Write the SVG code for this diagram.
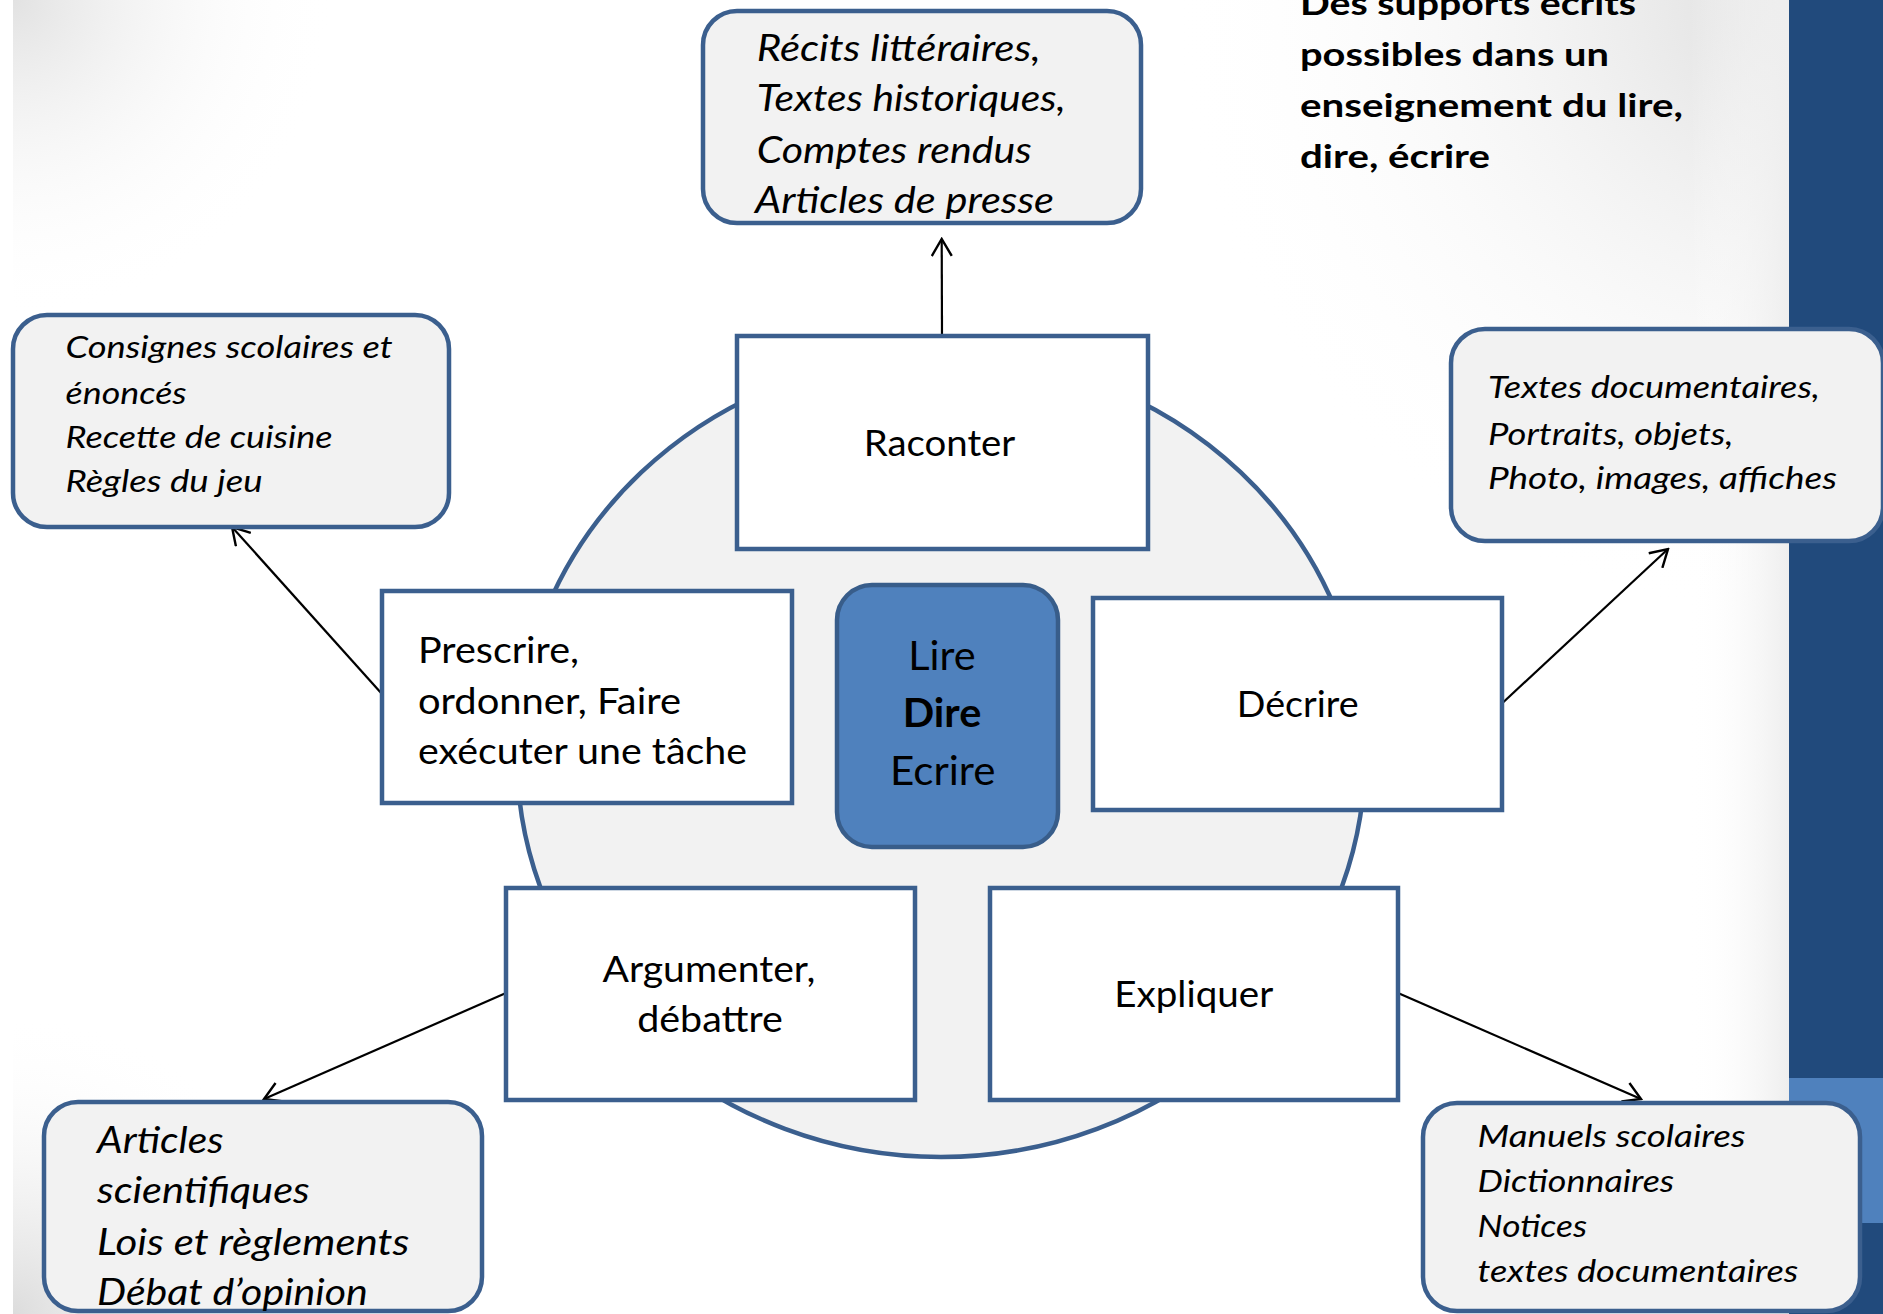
<svg xmlns="http://www.w3.org/2000/svg" width="1883" height="1314" viewBox="0 0 1883 1314">
<defs>
<style>
.node{fill:#ffffff;stroke:#3b5f8e;stroke-width:4.5}
.leaf{fill:#f2f2f2;stroke:#3b5f8e;stroke-width:4.5}
.t{font-family:Lato,"Liberation Sans",sans-serif;fill:#000}
.n{font-size:36px}
.c{font-size:41px}
.li{font-size:36px;font-style:italic}
.ls{font-size:31px;font-style:italic}
.title{font-size:32.5px;font-weight:bold}
.conn{stroke:#000;stroke-width:2.2;fill:none;marker-end:url(#arr)}
</style>
<marker id="arr" viewBox="0 0 22 22" refX="20" refY="11" markerWidth="22" markerHeight="22" markerUnits="userSpaceOnUse" orient="auto">
<path d="M3,1 L20,11 L3,21" fill="none" stroke="#000" stroke-width="2.4"/>
</marker>
<radialGradient id="gTL" gradientUnits="userSpaceOnUse" cx="13" cy="0" r="320">
<stop offset="0" stop-color="#e2e2e2"/><stop offset="1" stop-color="#ffffff" stop-opacity="0"/>
</radialGradient>
<radialGradient id="gTR" gradientUnits="userSpaceOnUse" cx="1789" cy="0" r="620">
<stop offset="0" stop-color="#dedede"/><stop offset="1" stop-color="#ffffff" stop-opacity="0"/>
</radialGradient>
<radialGradient id="gBL" gradientUnits="userSpaceOnUse" cx="13" cy="1314" r="300">
<stop offset="0" stop-color="#dcdcdc"/><stop offset="1" stop-color="#ffffff" stop-opacity="0"/>
</radialGradient>
<linearGradient id="gR" gradientUnits="userSpaceOnUse" x1="1690" y1="0" x2="1789" y2="0">
<stop offset="0" stop-color="#ffffff" stop-opacity="0"/><stop offset="1" stop-color="#eeeeee"/>
</linearGradient>
</defs>

<g id="background">
<rect x="0" y="0" width="1883" height="1314" fill="#ffffff"/>
<rect x="13" y="0" width="1776" height="1314" fill="url(#gTL)"/>
<rect x="13" y="0" width="1776" height="1314" fill="url(#gTR)"/>
<rect x="13" y="0" width="1776" height="1314" fill="url(#gBL)"/>
<rect x="1690" y="0" width="99" height="1314" fill="url(#gR)"/>
<rect x="1789" y="0" width="94" height="1314" fill="#214a7c"/>
<rect x="1789" y="1078" width="94" height="145" fill="#4f81bd"/>
</g>

<g id="title">
<text class="t title" x="1300" y="15" textLength="336" lengthAdjust="spacingAndGlyphs">Des supports écrits</text>
<text class="t title" x="1300" y="66" textLength="309" lengthAdjust="spacingAndGlyphs">possibles dans un</text>
<text class="t title" x="1300" y="117" textLength="383" lengthAdjust="spacingAndGlyphs">enseignement du lire,</text>
<text class="t title" x="1300" y="168" textLength="190" lengthAdjust="spacingAndGlyphs">dire, écrire</text>
</g>

<g id="cercle">
<ellipse cx="941" cy="756" rx="424" ry="401" fill="#f2f2f2" stroke="#3b5f8e" stroke-width="4.5"/>
</g>

<g id="connectors">
<line class="conn" x1="942" y1="336" x2="941.7" y2="239"/>
<line class="conn" x1="382" y1="694" x2="232" y2="527"/>
<line class="conn" x1="1502.7" y1="702.7" x2="1668" y2="549"/>
<line class="conn" x1="506" y1="993" x2="264" y2="1099"/>
<line class="conn" x1="1398" y1="993" x2="1641" y2="1099"/>
</g>

<g id="raconter">
<rect class="node" x="737" y="336" width="411" height="213"/>
<text class="t n" x="939.5" y="456" text-anchor="middle" textLength="151.5" lengthAdjust="spacingAndGlyphs">Raconter</text>
</g>

<g id="prescrire">
<rect class="node" x="382" y="591" width="410" height="212"/>
<text class="t n" x="418" y="663" textLength="161" lengthAdjust="spacingAndGlyphs">Prescrire,</text>
<text class="t n" x="418" y="714" textLength="263" lengthAdjust="spacingAndGlyphs">ordonner, Faire</text>
<text class="t n" x="418" y="764" textLength="329" lengthAdjust="spacingAndGlyphs">exécuter une tâche</text>
</g>

<g id="centre">
<rect x="837" y="585" width="221" height="262" rx="35" ry="35" fill="#4f81bd" stroke="#385d8a" stroke-width="4.5"/>
<text class="t c" x="942" y="670" text-anchor="middle" textLength="67.4" lengthAdjust="spacingAndGlyphs">Lire</text>
<text class="t c" x="942" y="727" text-anchor="middle" font-weight="bold" textLength="78.6" lengthAdjust="spacingAndGlyphs">Dire</text>
<text class="t c" x="942.8" y="785" text-anchor="middle" textLength="105.5" lengthAdjust="spacingAndGlyphs">Ecrire</text>
</g>

<g id="decrire">
<rect class="node" x="1093" y="598" width="409" height="212"/>
<text class="t n" x="1297.7" y="717" text-anchor="middle" textLength="121.8" lengthAdjust="spacingAndGlyphs">Décrire</text>
</g>

<g id="argumenter">
<rect class="node" x="506" y="888" width="409" height="212"/>
<text class="t n" x="709" y="982" text-anchor="middle" textLength="212.8" lengthAdjust="spacingAndGlyphs">Argumenter,</text>
<text class="t n" x="710" y="1032" text-anchor="middle" textLength="145.7" lengthAdjust="spacingAndGlyphs">débattre</text>
</g>

<g id="expliquer">
<rect class="node" x="990" y="888" width="408" height="212"/>
<text class="t n" x="1193.7" y="1007" text-anchor="middle" textLength="159" lengthAdjust="spacingAndGlyphs">Expliquer</text>
</g>

<g id="supports-raconter">
<rect class="leaf" x="703" y="11" width="438" height="212" rx="34" ry="34"/>
<text class="t li" x="756.7" y="61" textLength="284" lengthAdjust="spacingAndGlyphs">Récits littéraires,</text>
<text class="t li" x="756.7" y="111" textLength="309" lengthAdjust="spacingAndGlyphs">Textes historiques,</text>
<text class="t li" x="756.7" y="162.7" textLength="275" lengthAdjust="spacingAndGlyphs">Comptes rendus</text>
<text class="t li" x="755" y="213" textLength="299" lengthAdjust="spacingAndGlyphs">Articles de presse</text>
</g>

<g id="supports-prescrire">
<rect class="leaf" x="13" y="315" width="436" height="212" rx="34" ry="34"/>
<text class="t ls" x="65.6" y="358" textLength="327" lengthAdjust="spacingAndGlyphs">Consignes scolaires et</text>
<text class="t ls" x="65.6" y="403.6" textLength="121" lengthAdjust="spacingAndGlyphs">énoncés</text>
<text class="t ls" x="65.6" y="447.5" textLength="267" lengthAdjust="spacingAndGlyphs">Recette de cuisine</text>
<text class="t ls" x="65.6" y="492" textLength="197" lengthAdjust="spacingAndGlyphs">Règles du jeu</text>
</g>

<g id="supports-decrire">
<rect class="leaf" x="1451" y="329" width="432" height="212" rx="34" ry="34"/>
<text class="t ls" x="1488" y="398" textLength="332" lengthAdjust="spacingAndGlyphs">Textes documentaires,</text>
<text class="t ls" x="1488" y="444.6" textLength="245.5" lengthAdjust="spacingAndGlyphs">Portraits, objets,</text>
<text class="t ls" x="1488" y="489" textLength="349" lengthAdjust="spacingAndGlyphs">Photo, images, affiches</text>
</g>

<g id="supports-argumenter">
<rect class="leaf" x="44" y="1102" width="438" height="209" rx="34" ry="34"/>
<text class="t li" x="97" y="1152.7" textLength="126.5" lengthAdjust="spacingAndGlyphs">Articles</text>
<text class="t li" x="97" y="1203" textLength="212.7" lengthAdjust="spacingAndGlyphs">scientifiques</text>
<text class="t li" x="97" y="1255" textLength="312.4" lengthAdjust="spacingAndGlyphs">Lois et règlements</text>
<text class="t li" x="97" y="1305" textLength="270.9" lengthAdjust="spacingAndGlyphs">Débat d’opinion</text>
</g>

<g id="supports-expliquer">
<rect class="leaf" x="1423" y="1103" width="437" height="208" rx="34" ry="34"/>
<text class="t ls" x="1477.6" y="1146.7" textLength="268" lengthAdjust="spacingAndGlyphs">Manuels scolaires</text>
<text class="t ls" x="1477.6" y="1191.7" textLength="196.6" lengthAdjust="spacingAndGlyphs">Dictionnaires</text>
<text class="t ls" x="1477.6" y="1237" textLength="109.5" lengthAdjust="spacingAndGlyphs">Notices</text>
<text class="t ls" x="1477.6" y="1281.7" textLength="320.7" lengthAdjust="spacingAndGlyphs">textes documentaires</text>
</g>
</svg>
